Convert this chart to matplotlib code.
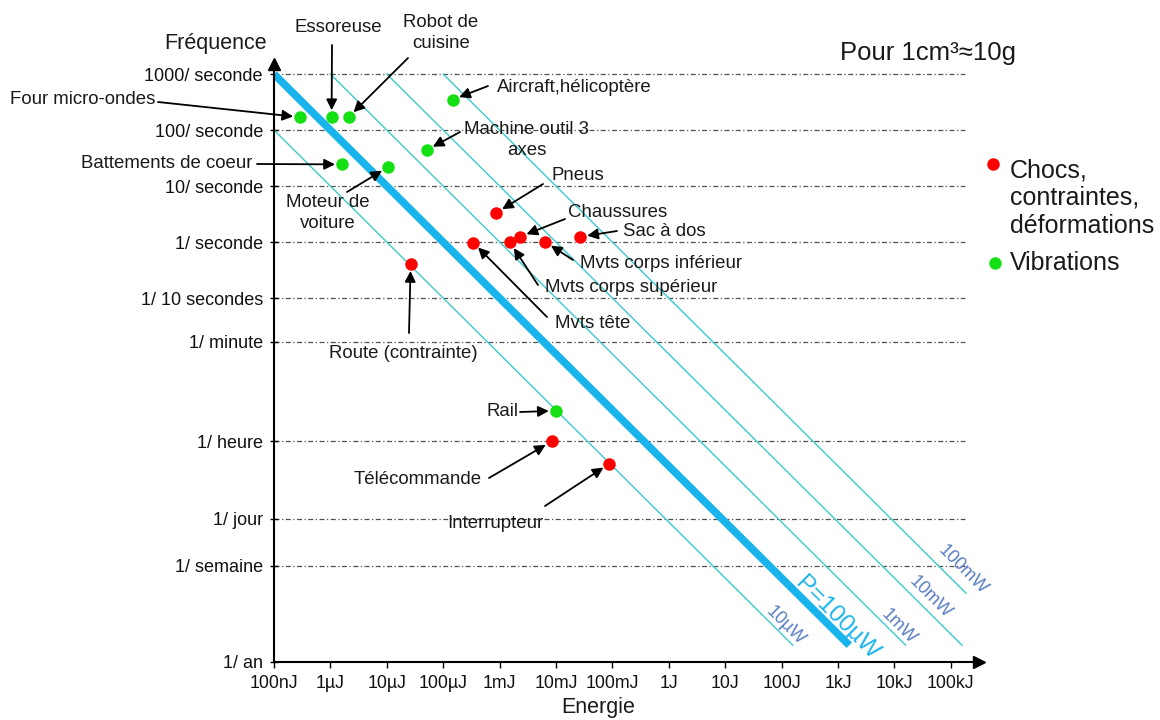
import numpy as np
import matplotlib
matplotlib.use("Agg")
import matplotlib.pyplot as plt
from matplotlib.lines import Line2D

plt.rcParams['font.family'] = ['Liberation Sans', 'DejaVu Sans']

# ---------------- data ----------------
vib_names = ["Four micro-ondes", "Essoreuse", "Robot de cuisine", "Aircraft,hélicoptère",
             "Machine outil 3 axes", "Battements de coeur", "Moteur de voiture", "Rail"]
vib_energy = [2.9e-7, 1.05e-6, 2.1e-6, 1.47e-4, 5.1e-5, 1.6e-6, 1.05e-5, 9.9e-3]
vib_freq = [170, 170, 170, 350, 44, 24.4, 21.8, 9.7e-4]

choc_names = ["Pneus", "Chaussures", "Sac à dos", "Mvts corps inférieur", "Mvts corps supérieur",
              "Mvts tête", "Route (contrainte)", "Télécommande", "Interrupteur"]
choc_energy = [8.7e-4, 2.3e-3, 2.7e-2, 6.4e-3, 1.53e-3, 3.4e-4, 2.65e-5, 8.4e-3, 8.8e-2]
choc_freq = [3.33, 1.245, 1.245, 1.01, 0.99, 0.98, 0.405, 2.76e-4, 1.1e-4]

x_ticks = [1e-7, 1e-6, 1e-5, 1e-4, 1e-3, 1e-2, 1e-1, 1, 10, 100, 1e3, 1e4, 1e5]
x_labels = ["100nJ", "1µJ", "10µJ", "100µJ", "1mJ", "10mJ", "100mJ", "1J", "10J", "100J",
            "1kJ", "10kJ", "100kJ"]
y_ticks = [1000, 100, 10, 1, 0.1, 1 / 60, 1 / 3600, 1 / 86400, 1 / 604800, 1 / 31536000]
y_labels = ["1000/ seconde", "100/ seconde", "10/ seconde", "1/ seconde", "1/ 10 secondes",
            "1/ minute", "1/ heure", "1/ jour", "1/ semaine", "1/ an"]

powers = [1e-5, 1e-4, 1e-3, 1e-2, 1e-1]
power_labels = ["10µW", "P=100µW", "1mW", "10mW", "100mW"]

# ---------------- figure ----------------
W, H = 1160, 720
fig = plt.figure(figsize=(W / 100, H / 100), dpi=100)

def P(x, y):
    return (x / W, 1 - y / H)

ax_left, ax_right, ax_top, ax_bot = 274, 979, 64, 662
ax = fig.add_axes([ax_left / W, 1 - ax_bot / H, (ax_right - ax_left) / W, (ax_bot - ax_top) / H])
ax.set_xscale('log')
ax.set_yscale('log')
ax.set_xlim(1e-7, 10 ** 5.5)
ax.set_ylim(1 / 31536000, 10 ** 3.18)

for s in ['top', 'right']:
    ax.spines[s].set_visible(False)
for s in ['left', 'bottom']:
    ax.spines[s].set_linewidth(1.5)
    ax.spines[s].set_color('black')

ax.set_xticks(x_ticks)
ax.set_xticklabels(x_labels, fontsize=12.8)
ax.set_yticks(y_ticks)
ax.set_yticklabels(y_labels, fontsize=13)
ax.minorticks_off()
ax.tick_params(axis='x', direction='out', length=4, width=1, pad=5, colors='black')
ax.tick_params(axis='y', direction='inout', length=6, width=1, pad=5, colors='black')
for lab in ax.get_xticklabels() + ax.get_yticklabels():
    lab.set_color('#111111')

# axis arrows
ax.plot([0], [1], marker='^', color='black', markersize=9, transform=ax.transAxes, clip_on=False)
ax.plot([1], [0], marker='>', color='black', markersize=9, transform=ax.transAxes, clip_on=False)

# horizontal dash-dot lines
for yt in y_ticks[:-1]:
    ax.axhline(yt, xmin=0, xmax=0.98, color='#505050', lw=0.9, linestyle=(0, (4, 2, 1, 2)), zorder=1)

# constant power lines
f_top = 1000
f_end = 10 ** -7.2
E_end_max = 10 ** 5.27
for p in powers:
    e0 = max(1e-7, p / f_top)
    e1 = min(p / f_end, E_end_max)
    es = np.array([e0, e1])
    if p == 1e-4:
        ax.plot(es, p / es, color='#1AB4EC', lw=5.5, solid_capstyle='butt', zorder=2)
    else:
        ax.plot(es, p / es, color='#3CCACA', lw=1.0, zorder=2)

label_pos = [(785, 626), (837, 618), (899, 627), (930, 597), (963, 570)]
for lbl, (px, py), p in zip(power_labels, label_pos, powers):
    if p == 1e-4:
        fig.text(*P(px, py), lbl, rotation=-45, ha='center', va='center', fontsize=17.5,
                 color='#1AB4EC', rotation_mode='anchor')
    else:
        fig.text(*P(px, py), lbl, rotation=-45, ha='center', va='center', fontsize=13,
                 color='#5A7EC2', rotation_mode='anchor')

# points
ax.plot(vib_energy, vib_freq, 'o', color='#14E014', markersize=9, markeredgewidth=0, zorder=5,
        label='Vibrations')
ax.plot(choc_energy, choc_freq, 'o', color='#FF0000', markersize=9, markeredgewidth=0, zorder=5,
        label='Chocs, contraintes, déformations')

# annotations: (text, text pos, ha, arrow start)
vib_ann = [
    ("Four micro-ondes", (155, 100), 'right', (158, 102)),
    ("Essoreuse", (338, 27), 'center', (332, 45)),
    ("Robot de\ncuisine", (441, 33), 'center', (408, 58)),
    ("Aircraft,hélicoptère", (497, 87), 'left', (488, 86)),
    ("Machine outil 3\naxes", (527, 140), 'center', (460, 132)),
    ("Battements de coeur", (252, 164), 'right', (257, 164)),
    ("Moteur de\nvoiture", (328, 213), 'center', (347, 192)),
    ("Rail", (502, 412), 'center', (520, 412)),
]
choc_ann = [
    ("Pneus", (578, 176), 'center', (543, 184)),
    ("Chaussures", (618, 212), 'center', (565, 219)),
    ("Sac à dos", (623, 232), 'left', (617, 231)),
    ("Mvts corps inférieur", (580, 263), 'left', (573, 260)),
    ("Mvts corps supérieur", (545, 288), 'left', (538, 285)),
    ("Mvts tête", (555, 323), 'left', (547, 317)),
    ("Route (contrainte)", (403, 353), 'center', (409, 333)),
    ("Télécommande", (418, 479), 'center', (489, 478)),
    ("Interrupteur", (495, 523), 'center', (545, 506)),
]

def annotate_all(ann, es, fs):
    for (txt, tpos, ha, apos), e, f in zip(ann, es, fs):
        fig.text(*P(*tpos), txt, ha=ha, va='center', fontsize=13.4, color='#1a1a1a',
                 linespacing=1.3, multialignment='center')
        ax.annotate('', xy=(e, f), xycoords='data', xytext=P(*apos), textcoords='figure fraction',
                    arrowprops=dict(arrowstyle='-|>', color='black', lw=1.3, mutation_scale=16,
                                    shrinkA=0, shrinkB=5), annotation_clip=False, zorder=4)

annotate_all(vib_ann, vib_energy, vib_freq)
annotate_all(choc_ann, choc_energy, choc_freq)

# axis titles
fig.text(*P(216, 43), "Fréquence", ha='center', va='center', fontsize=15.5, color='#1a1a1a')
fig.text(*P(598, 708), "Energie", ha='center', va='center', fontsize=15.5, color='#1a1a1a')
fig.text(*P(840, 53), "Pour 1cm³≈10g", ha='left', va='center', fontsize=18.5, color='#1a1a1a')

# legend
fig.add_artist(Line2D([993 / W], [1 - 164 / H], marker='o', color='#FF0000', markersize=9,
                      markeredgewidth=0, linestyle='none', transform=fig.transFigure))
fig.add_artist(Line2D([995 / W], [1 - 263 / H], marker='o', color='#14E014', markersize=9,
                      markeredgewidth=0, linestyle='none', transform=fig.transFigure))
fig.text(*P(1010, 198), "Chocs,\ncontraintes,\ndéformations", ha='left', va='center',
         fontsize=18, color='#1a1a1a', linespacing=1.2)
fig.text(*P(1010, 263), "Vibrations", ha='left', va='center', fontsize=18, color='#1a1a1a')

fig.savefig("out.png", dpi=100)
